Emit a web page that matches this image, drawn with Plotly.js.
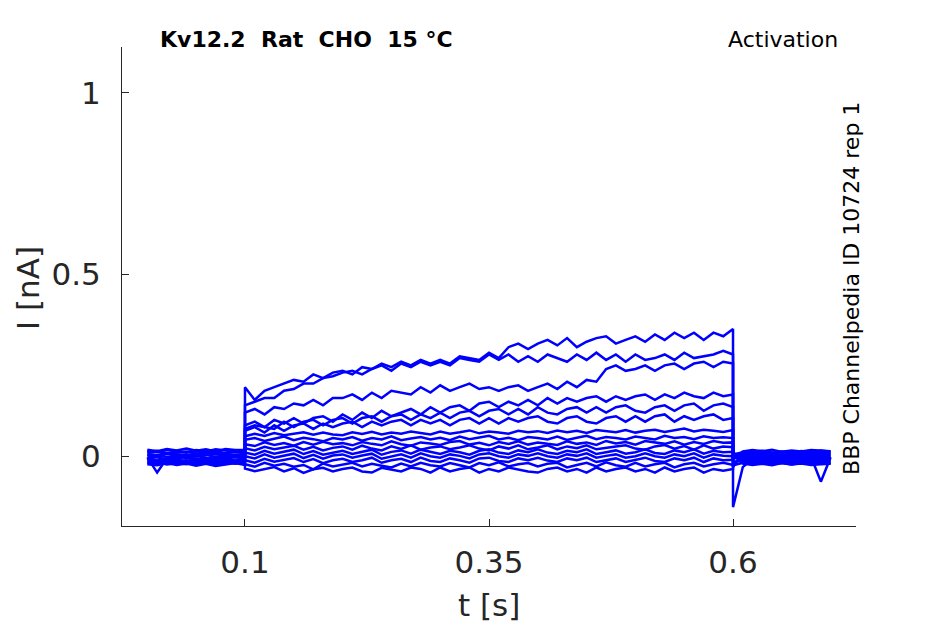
<!DOCTYPE html>
<html>
<head>
<meta charset="utf-8">
<script src="https://cdn.plot.ly/plotly-3.0.1.min.js"></script>
<style>html,body{margin:0;padding:0;background:#fff;}#chart{width:945px;height:624px;}</style>
</head>
<body>
<div id="chart"></div>
<script>
// time points [s]: baseline 0..0.1, step at 0.1, pulse 0.1..0.6, step at 0.6, tail 0.6..0.7
const timeS = [0,0.01,0.02,0.03,0.04,0.05,0.06,0.07,0.08,0.09,0.1,
  0.1,0.11,0.12,0.13,0.14,0.15,0.16,0.17,0.18,0.19,
  0.2,0.21,0.22,0.23,0.24,0.25,0.26,0.27,0.28,0.29,
  0.3,0.31,0.32,0.33,0.34,0.35,0.36,0.37,0.38,0.39,
  0.4,0.41,0.42,0.43,0.44,0.45,0.46,0.47,0.48,0.49,
  0.5,0.51,0.52,0.53,0.54,0.55,0.56,0.57,0.58,0.59,0.6,
  0.6,0.61,0.62,0.63,0.64,0.65,0.66,0.67,0.68,0.69,0.7];

// current traces [nA]
const traceA = [0.018,0.014,0.02,0.016,0.021,0.015,0.019,0.013,0.02,0.017,0.018,
  0.19,0.155,0.18,0.19,0.2,0.21,0.205,0.225,0.215,0.23,
  0.235,0.225,0.245,0.24,0.255,0.245,0.26,0.25,0.265,0.255,
  0.265,0.255,0.275,0.27,0.265,0.285,0.27,0.3,0.31,0.295,
  0.31,0.32,0.305,0.325,0.3,0.315,0.325,0.33,0.31,0.32,
  0.33,0.315,0.335,0.32,0.34,0.325,0.34,0.32,0.34,0.33,0.35,
  -0.14,-0.03,-0.008,-0.003,-0.006,-0.002,-0.007,-0.004,-0.001,-0.006,-0.004];
const traceB = [-0.02,-0.017,-0.023,-0.019,-0.016,-0.022,-0.018,-0.024,-0.02,-0.017,-0.02,
  0.14,0.15,0.16,0.16,0.18,0.185,0.2,0.2,0.215,0.22,
  0.23,0.235,0.225,0.24,0.25,0.235,0.255,0.245,0.26,0.25,
  0.26,0.25,0.27,0.265,0.26,0.28,0.265,0.28,0.26,0.275,
  0.26,0.28,0.27,0.26,0.28,0.265,0.285,0.265,0.28,0.26,
  0.28,0.265,0.27,0.28,0.265,0.285,0.27,0.275,0.28,0.29,0.28,
  -0.03,0.008,0.012,0.015,0.01,0.013,0.009,0.014,0.011,0.016,0.012];
const traceC = [0.012,0.015,0.009,0.013,0.01,0.016,0.011,0.014,0.008,0.013,0.012,
  0.12,0.13,0.115,0.135,0.13,0.145,0.14,0.155,0.14,0.16,
  0.16,0.17,0.155,0.175,0.16,0.18,0.175,0.17,0.19,0.175,
  0.195,0.18,0.19,0.2,0.185,0.19,0.18,0.19,0.195,0.18,
  0.19,0.2,0.185,0.205,0.19,0.21,0.205,0.24,0.25,0.235,
  0.24,0.25,0.235,0.25,0.255,0.24,0.255,0.26,0.245,0.26,0.255,
  -0.025,-0.018,-0.022,-0.017,-0.021,-0.019,-0.023,-0.018,-0.02,-0.016,-0.021];
const traceD = [-0.012,-0.015,-0.009,-0.013,-0.016,-0.01,-0.014,-0.008,-0.012,-0.015,-0.011,
  0.085,0.095,0.08,0.1,0.09,0.105,0.09,0.105,0.11,0.095,
  0.115,0.1,0.12,0.105,0.125,0.11,0.12,0.13,0.115,0.135,
  0.12,0.135,0.14,0.125,0.145,0.15,0.135,0.15,0.14,0.155,
  0.14,0.16,0.145,0.16,0.15,0.16,0.165,0.15,0.165,0.155,
  0.165,0.17,0.155,0.17,0.16,0.175,0.165,0.16,0.175,0.165,0.17,
  0,0.004,0.008,0.005,0.009,0.003,0.007,0.006,0.01,0.004,0.006];
const traceE = [0.006,0.003,0.009,0.005,0.002,0.008,0.004,0.01,0.006,0.003,0.007,
  0.075,0.085,0.08,0.075,0.095,0.08,0.095,0.1,0.085,0.1,
  0.105,0.09,0.105,0.11,0.095,0.11,0.115,0.1,0.115,0.105,
  0.12,0.105,0.12,0.125,0.11,0.125,0.13,0.115,0.13,0.115,
  0.135,0.12,0.115,0.13,0.135,0.12,0.135,0.12,0.135,0.14,
  0.125,0.12,0.135,0.14,0.125,0.14,0.145,0.125,0.14,0.145,0.135,
  0,-0.01,-0.014,-0.011,-0.015,-0.009,-0.013,-0.01,-0.014,-0.012,-0.01];
const traceF = [-0.006,-0.003,-0.009,-0.005,-0.002,-0.008,-0.004,-0.01,-0.006,-0.003,-0.007,
  0.07,0.08,0.065,0.085,0.07,0.085,0.09,0.075,0.09,0.08,
  0.09,0.095,0.08,0.095,0.085,0.095,0.1,0.085,0.1,0.09,
  0.1,0.085,0.1,0.105,0.09,0.105,0.09,0.105,0.095,0.105,
  0.11,0.095,0.09,0.105,0.11,0.095,0.09,0.105,0.11,0.095,
  0.11,0.095,0.11,0.115,0.095,0.11,0.1,0.11,0.115,0.1,0.105,
  -0.005,0.002,-0.002,0.003,-0.001,0.002,-0.003,0.001,0.003,-0.002,0];
const traceG = [0,0.003,-0.003,0.002,-0.004,0.001,0.004,-0.002,0.003,-0.003,0,
  0.055,0.062,0.056,0.064,0.058,0.061,0.066,0.059,0.065,0.06,
  0.058,0.066,0.061,0.067,0.06,0.065,0.062,0.068,0.064,0.06,
  0.068,0.062,0.066,0.071,0.063,0.068,0.065,0.062,0.07,0.066,
  0.069,0.064,0.071,0.066,0.07,0.064,0.072,0.068,0.066,0.072,
  0.065,0.07,0.073,0.067,0.071,0.076,0.068,0.073,0.07,0.067,0.072,
  0.005,0.011,0.007,0.01,0.006,0.012,0.008,0.011,0.007,0.01,0.009];
const traceH = [0.015,0.012,0.018,0.014,0.011,0.017,0.013,0.019,0.015,0.012,0.016,
  0.045,0.05,0.042,0.048,0.054,0.044,0.051,0.047,0.041,0.05,
  0.046,0.053,0.043,0.05,0.046,0.055,0.044,0.049,0.053,0.046,
  0.051,0.044,0.054,0.047,0.052,0.056,0.046,0.051,0.044,0.053,
  0.05,0.046,0.054,0.045,0.051,0.056,0.047,0.053,0.05,0.046,
  0.054,0.049,0.046,0.056,0.05,0.053,0.047,0.055,0.05,0.052,0.05,
  -0.015,-0.013,-0.017,-0.014,-0.018,-0.012,-0.016,-0.013,-0.017,-0.015,-0.014];
const traceI = [-0.003,-0.045,-0.006,-0.001,-0.005,0.001,-0.004,-0.007,-0.002,0,-0.003,
  0.033,0.028,0.038,0.031,0.036,0.029,0.039,0.032,0.04,0.033,
  0.036,0.03,0.039,0.034,0.03,0.041,0.033,0.029,0.038,0.035,
  0.031,0.039,0.042,0.032,0.037,0.03,0.039,0.034,0.041,0.032,
  0.038,0.034,0.031,0.041,0.034,0.038,0.031,0.042,0.035,0.039,
  0.032,0.042,0.038,0.034,0.041,0.032,0.039,0.034,0.042,0.037,0.038,
  0,-0.001,-0.005,-0.002,-0.004,0,-0.003,-0.006,-0.002,-0.07,-0.003];
const traceJ = [0.009,0.012,0.006,0.01,0.013,0.007,0.011,0.005,0.009,0.012,0.008,
  0.022,0.016,0.026,0.019,0.024,0.029,0.018,0.026,0.016,0.023,
  0.027,0.018,0.029,0.021,0.016,0.027,0.02,0.03,0.018,0.024,
  0.027,0.019,0.024,0.03,0.021,0.016,0.027,0.021,0.03,0.019,
  0.024,0.03,0.019,0.027,0.022,0.03,0.019,0.024,0.027,0.03,
  0.021,0.018,0.027,0.031,0.021,0.028,0.018,0.03,0.021,0.027,0.025,
  -0.01,0.013,0.017,0.014,0.018,0.012,0.016,0.013,0.017,0.015,0.014];
const traceK = [-0.015,-0.012,-0.018,-0.014,-0.011,-0.017,-0.013,-0.019,-0.015,-0.012,-0.016,
  0.01,0.004,0.015,0.007,0.012,0.018,0.006,0.014,0.004,0.01,
  0.015,0.006,0.012,0.018,0.004,0.012,0.016,0.007,0.018,0.011,
  0.006,0.015,0.011,0.004,0.015,0.019,0.01,0.006,0.016,0.011,
  0.019,0.01,0.006,0.015,0.011,0.019,0.006,0.011,0.016,0.007,
  0.011,0.019,0.009,0.006,0.016,0.011,0.019,0.007,0.015,0.011,0.012,
  0.01,-0.007,-0.011,-0.008,-0.012,-0.006,-0.01,-0.007,-0.011,-0.009,-0.008];
const traceL = [0.003,0,0.006,0.002,0.005,-0.001,0.004,0.007,0.001,0.005,0.003,
  0,-0.006,0.005,-0.004,0.001,0.007,-0.005,0.004,-0.007,0.002,
  0.005,-0.004,0.002,0.007,-0.007,0,0.005,-0.004,0.008,0,
  -0.004,0.005,0.001,-0.006,0.005,0.008,0,-0.004,0.005,0.001,
  0.008,0,-0.004,0.005,0.001,0.008,-0.004,0.001,0.005,-0.004,
  0,0.008,0,-0.004,0.005,0,0.008,-0.004,0.005,0.001,0,
  -0.005,0.005,0.001,0.004,0,0.006,0.002,0.005,0.001,0.004,0.002];
const traceM = [-0.009,-0.012,-0.006,-0.01,-0.013,-0.007,-0.011,-0.005,-0.009,-0.012,-0.008,
  -0.011,-0.018,-0.007,-0.015,-0.011,-0.005,-0.016,-0.008,-0.019,-0.011,
  -0.007,-0.016,-0.011,-0.004,-0.018,-0.011,-0.007,-0.016,-0.004,-0.013,
  -0.016,-0.006,-0.011,-0.018,-0.006,-0.004,-0.013,-0.016,-0.006,-0.011,
  -0.004,-0.012,-0.016,-0.006,-0.011,-0.004,-0.016,-0.011,-0.006,-0.016,
  -0.011,-0.004,-0.013,-0.016,-0.006,-0.011,-0.004,-0.016,-0.006,-0.011,-0.01,
  0,-0.016,-0.02,-0.017,-0.021,-0.015,-0.019,-0.016,-0.02,-0.018,-0.017];
const traceN = [-0.018,-0.021,-0.015,-0.019,-0.022,-0.016,-0.02,-0.014,-0.018,-0.021,-0.017,
  -0.022,-0.029,-0.018,-0.026,-0.021,-0.029,-0.024,-0.036,-0.02,-0.028,
  -0.024,-0.018,-0.028,-0.021,-0.026,-0.031,-0.02,-0.028,-0.018,-0.025,
  -0.028,-0.019,-0.025,-0.031,-0.019,-0.025,-0.017,-0.028,-0.022,-0.019,
  -0.028,-0.021,-0.018,-0.031,-0.024,-0.018,-0.028,-0.017,-0.025,-0.029,
  -0.018,-0.028,-0.022,-0.018,-0.031,-0.022,-0.018,-0.028,-0.022,-0.018,-0.024,
  -0.02,-0.004,-0.008,-0.005,-0.009,-0.003,-0.007,-0.004,-0.008,-0.006,-0.005];
const traceO = [-0.022,-0.025,-0.019,-0.024,-0.02,-0.026,-0.021,-0.027,-0.023,-0.019,-0.024,
  -0.034,-0.041,-0.036,-0.03,-0.042,-0.033,-0.046,-0.036,-0.032,-0.042,
  -0.035,-0.031,-0.042,-0.045,-0.032,-0.037,-0.042,-0.031,-0.035,-0.045,
  -0.031,-0.042,-0.035,-0.031,-0.045,-0.035,-0.042,-0.031,-0.037,-0.042,
  -0.045,-0.035,-0.031,-0.042,-0.035,-0.045,-0.031,-0.042,-0.035,-0.031,
  -0.042,-0.035,-0.045,-0.031,-0.042,-0.035,-0.031,-0.045,-0.035,-0.04,-0.035,
  0.005,-0.02,-0.024,-0.021,-0.025,-0.019,-0.023,-0.02,-0.024,-0.022,-0.021];

const allTraces = [traceO, traceN, traceM, traceL, traceK, traceJ, traceI, traceH, traceG,
  traceF, traceE, traceD, traceC, traceB, traceA];

const xTicks = [0.1, 0.35, 0.6];
const xTickText = ['0.1', '0.35', '0.6'];
const yTicks = [0, 0.5, 1];
const yTickText = ['0', '0.5', '1'];

const titleText = 'Kv12.2  Rat  CHO  15 °C';
const protocolText = 'Activation';
const sideText = 'BBP Channelpedia ID 10724 rep 1';
const xLabel = 't [s]';
const yLabel = 'I [nA]';

const FONT = 'DejaVu Sans, sans-serif';
const TXT = '#262626';

const data = allTraces.map(y => ({
  x: timeS, y: y, type: 'scatter', mode: 'lines',
  line: {color: '#0000ff', width: 2.5}, hoverinfo: 'skip', showlegend: false
}));

const layout = {
  width: 945, height: 624,
  margin: {l: 122, r: 89, t: 47, b: 98, pad: 0},
  paper_bgcolor: '#ffffff', plot_bgcolor: '#ffffff',
  showlegend: false,
  xaxis: {
    range: [-0.026, 0.726], tickvals: xTicks, ticktext: xTickText,
    ticks: 'inside', ticklen: 7, tickwidth: 1, tickcolor: TXT,
    showline: true, linecolor: TXT, linewidth: 1, mirror: false,
    showgrid: false, zeroline: false,
    tickfont: {family: FONT, size: 31, color: TXT}, ticklabelstandoff: 9
  },
  yaxis: {
    range: [-0.192, 1.126], tickvals: yTicks, ticktext: yTickText,
    ticks: 'inside', ticklen: 7, tickwidth: 1, tickcolor: TXT,
    showline: true, linecolor: TXT, linewidth: 1, mirror: false,
    showgrid: false, zeroline: false,
    tickfont: {family: FONT, size: 31, color: TXT}, ticklabelstandoff: 14
  },
  annotations: [
    {text: '<b>' + titleText + '</b>', xref: 'paper', yref: 'paper', x: 0.2507, y: 1.0167,
     xanchor: 'center', yanchor: 'middle', showarrow: false,
     font: {family: FONT, size: 22, color: '#000000'}},
    {text: protocolText, xref: 'paper', yref: 'paper', x: 0.8999, y: 1.0167,
     xanchor: 'center', yanchor: 'middle', showarrow: false,
     font: {family: FONT, size: 22, color: '#000000'}},
    {text: sideText, xref: 'paper', yref: 'paper', x: 0.9946, y: 0.495,
     xanchor: 'center', yanchor: 'middle', textangle: -90, showarrow: false,
     font: {family: FONT, size: 22, color: '#000000'}},
    {text: xLabel, xref: 'paper', yref: 'paper', x: 0.5, y: -0.165,
     xanchor: 'center', yanchor: 'middle', showarrow: false,
     font: {family: FONT, size: 31, color: TXT}},
    {text: yLabel, xref: 'paper', yref: 'paper', x: -0.128, y: 0.497,
     xanchor: 'center', yanchor: 'middle', textangle: -90, showarrow: false,
     font: {family: FONT, size: 31, color: TXT}}
  ]
};

Plotly.newPlot('chart', data, layout, {staticPlot: true, displayModeBar: false});
</script>
</body>
</html>
